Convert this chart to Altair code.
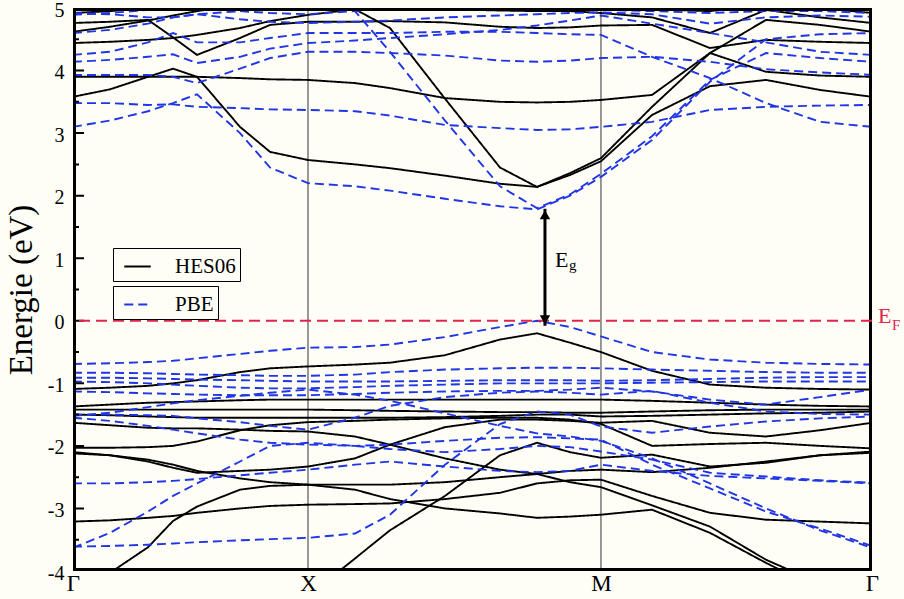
import altair as alt
import pandas as pd

# ---------------- data ----------------
# path coordinate along Γ - X - M - Γ (normalised)
K_PATH = [0.0, 0.0463, 0.0939, 0.1252, 0.1552, 0.2090, 0.2466, 0.2941, 0.3529, 0.3967,
          0.4656, 0.5344, 0.5807, 0.6220, 0.6608, 0.7247, 0.7972, 0.8673, 0.9349, 1.0]
K_DOMAIN = [0.0, 1.0]
E_DOMAIN = [-4, 5]
K_TICKS = [0.0, 0.2941, 0.6608, 1.0]
K_LABELS = ["Γ", "X", "M", "Γ"]
Y_TICKS = [-4, -3, -2, -1, 0, 1, 2, 3, 4, 5]
Y_MINOR = [-3.5, -2.5, -1.5, -0.5, 0.5, 1.5, 2.5, 3.5, 4.5]

HES06 = {
    "c1": [3.58, 3.70, 3.90, 4.03, 3.90, 3.10, 2.70, 2.57, 2.50, 2.44, 2.32, 2.19, 2.14, 2.33, 2.55, 3.29, 3.75, 3.85, 3.69, 3.58],
    "c2": [3.90, 3.90, 3.90, 3.90, 3.90, 3.88, 3.86, 3.85, 3.80, 3.72, 3.56, 3.50, 3.49, 3.50, 3.53, 3.61, 4.28, 3.98, 3.92, 3.90],
    "c3": [4.44, 4.46, 4.49, 4.52, 4.57, 4.68, 4.79, 4.89, 4.98, 4.68, 3.55, 2.45, 2.14, 2.36, 2.60, 3.42, 4.28, 4.81, 4.73, 4.62],
    "c4": [4.76, 4.78, 4.81, 4.53, 4.25, 4.52, 4.73, 4.78, 4.78, 4.79, 4.77, 4.70, 4.68, 4.69, 4.72, 4.73, 4.36, 4.49, 4.46, 4.44],
    "c5": [4.62, 4.70, 4.80, 4.88, 4.95, 5.05, 5.10, 5.10, 5.05, 5.00, 4.98, 4.96, 4.95, 4.95, 4.92, 4.85, 4.60, 4.97, 4.85, 4.76],
    "c6": [4.92, 4.95, 5.00, 5.05, 5.10, 5.10, 5.10, 5.10, 5.10, 5.10, 5.10, 5.10, 5.10, 5.05, 5.00, 4.98, 4.95, 5.05, 5.00, 4.92],
    "v1": [-1.09, -1.07, -1.04, -1.00, -0.95, -0.82, -0.76, -0.73, -0.70, -0.67, -0.55, -0.30, -0.20, -0.35, -0.50, -0.80, -1.02, -1.07, -1.09, -1.10],
    "v2": [-1.37, -1.34, -1.31, -1.30, -1.29, -1.27, -1.26, -1.26, -1.26, -1.26, -1.26, -1.26, -1.26, -1.26, -1.26, -1.28, -1.31, -1.34, -1.36, -1.37],
    "v3": [-1.42, -1.42, -1.42, -1.42, -1.42, -1.42, -1.42, -1.42, -1.43, -1.44, -1.45, -1.46, -1.46, -1.47, -1.47, -1.45, -1.43, -1.42, -1.42, -1.42],
    "v4": [-1.50, -1.51, -1.53, -1.54, -1.55, -1.55, -1.55, -1.55, -1.55, -1.55, -1.54, -1.52, -1.50, -1.50, -1.53, -1.52, -1.50, -1.48, -1.47, -1.45],
    "v5": [-1.63, -1.67, -1.71, -1.72, -1.72, -1.74, -1.76, -1.77, -1.85, -1.98, -2.20, -2.38, -2.45, -2.58, -2.66, -2.95, -3.29, -3.82, -4.20, -4.50],
    "v6": [-2.03, -2.03, -2.02, -2.00, -1.93, -1.75, -1.67, -1.62, -1.60, -1.58, -1.56, -1.55, -1.55, -1.58, -1.65, -2.00, -1.97, -1.95, -2.00, -2.04],
    "v7": [-2.10, -2.15, -2.25, -2.35, -2.43, -2.40, -2.38, -2.33, -2.20, -1.98, -1.70, -1.58, -1.58, -1.60, -1.63, -1.60, -1.79, -1.85, -1.75, -1.63],
    "v8": [-2.12, -2.15, -2.22, -2.30, -2.40, -2.52, -2.58, -2.62, -2.62, -2.62, -2.58, -2.50, -2.45, -2.40, -2.38, -2.42, -2.35, -2.25, -2.15, -2.11],
    "v9": [-3.21, -3.19, -3.15, -3.12, -3.07, -3.00, -2.96, -2.94, -2.93, -2.92, -2.85, -2.75, -2.60, -2.55, -2.54, -2.80, -3.07, -3.18, -3.21, -3.24],
    "v10": [-4.60, -4.03, -3.62, -3.20, -2.97, -2.70, -2.64, -2.62, -2.70, -2.85, -3.00, -3.08, -3.15, -3.13, -3.10, -3.02, -3.39, -3.87, -4.30, -4.60],
    "v11": [-6.00, -6.00, -6.00, -6.00, -6.00, -5.50, -5.00, -4.40, -3.80, -3.35, -2.80, -2.15, -1.95, -2.10, -2.19, -2.14, -2.33, -2.27, -2.15, -2.09],
}

PBE = {
    "c1": [3.10, 3.20, 3.35, 3.48, 3.62, 3.00, 2.45, 2.20, 2.15, 2.08, 1.95, 1.83, 1.78, 2.00, 2.30, 2.89, 3.82, 4.50, 4.58, 4.60],
    "c2": [4.92, 4.90, 4.85, 4.85, 4.90, 4.95, 5.00, 5.02, 4.95, 4.30, 3.20, 2.15, 1.80, 2.02, 2.35, 2.95, 3.85, 4.28, 4.20, 4.14],
    "c3": [3.48, 3.48, 3.45, 3.46, 3.42, 3.40, 3.38, 3.37, 3.35, 3.28, 3.13, 3.08, 3.05, 3.06, 3.10, 3.18, 3.37, 3.42, 3.44, 3.45],
    "c4": [3.93, 3.93, 3.93, 3.90, 3.80, 4.03, 4.20, 4.30, 4.30, 4.28, 4.24, 4.16, 4.14, 4.16, 4.20, 4.22, 4.14, 4.02, 3.97, 3.93],
    "c5": [4.14, 4.17, 4.22, 4.26, 4.12, 4.22, 4.35, 4.44, 4.48, 4.52, 4.58, 4.65, 4.72, 4.80, 4.88, 4.75, 4.60, 4.45, 4.30, 4.25],
    "c6": [4.25, 4.30, 4.45, 4.60, 4.45, 4.45, 4.52, 4.60, 4.60, 4.60, 4.62, 4.62, 4.60, 4.58, 4.57, 4.22, 3.88, 3.48, 3.18, 3.10],
    "c7": [4.60, 4.65, 4.75, 4.85, 4.90, 4.82, 4.78, 4.76, 4.78, 4.80, 4.85, 4.88, 4.90, 4.92, 4.93, 4.90, 4.75, 4.85, 4.88, 4.86],
    "c8": [4.89, 4.92, 4.97, 5.05, 5.00, 4.95, 4.92, 4.90, 4.95, 5.00, 5.05, 5.00, 4.98, 4.97, 4.97, 4.95, 4.92, 4.95, 4.95, 4.92],
    "v1": [-0.69, -0.68, -0.66, -0.64, -0.60, -0.53, -0.48, -0.43, -0.42, -0.38, -0.26, -0.10, 0.00, -0.10, -0.25, -0.50, -0.62, -0.67, -0.69, -0.70],
    "v2": [-0.83, -0.83, -0.84, -0.85, -0.86, -0.87, -0.88, -0.88, -0.86, -0.82, -0.78, -0.76, -0.75, -0.75, -0.76, -0.78, -0.80, -0.82, -0.83, -0.83],
    "v3": [-0.91, -0.91, -0.92, -0.93, -0.94, -0.95, -0.96, -0.97, -0.97, -0.97, -0.96, -0.95, -0.95, -0.95, -0.96, -0.95, -0.93, -0.91, -0.90, -0.90],
    "v4": [-0.97, -0.98, -1.00, -1.02, -1.04, -1.07, -1.08, -1.08, -1.06, -1.04, -1.02, -1.00, -1.00, -1.00, -1.00, -0.99, -0.98, -0.97, -0.97, -0.97],
    "v5": [-1.13, -1.14, -1.16, -1.17, -1.18, -1.19, -1.19, -1.19, -1.17, -1.15, -1.13, -1.12, -1.12, -1.10, -1.07, -1.13, -1.26, -1.34, -1.22, -1.10],
    "v6": [-1.52, -1.47, -1.38, -1.32, -1.27, -1.20, -1.15, -1.10, -1.18, -1.28, -1.48, -1.68, -1.80, -1.85, -1.92, -2.20, -2.60, -3.00, -3.35, -3.63],
    "v7": [-1.55, -1.60, -1.68, -1.74, -1.80, -1.90, -1.95, -1.98, -2.00, -1.98, -1.92, -1.87, -1.86, -1.88, -1.90, -2.30, -2.68, -3.05, -3.32, -3.60],
    "v8": [-1.50, -1.50, -1.51, -1.52, -1.56, -1.62, -1.68, -1.74, -1.55, -1.36, -1.22, -1.15, -1.13, -1.15, -1.18, -1.12, -1.31, -1.45, -1.49, -1.50],
    "v9": [-2.60, -2.60, -2.58, -2.56, -2.53, -2.47, -2.43, -2.38, -2.30, -2.25, -2.33, -2.40, -2.42, -2.40, -2.30, -2.40, -2.48, -2.52, -2.56, -2.60],
    "v10": [-3.63, -3.39, -3.05, -2.80, -2.60, -2.25, -2.00, -1.95, -2.00, -2.05, -2.10, -2.05, -2.00, -2.02, -2.09, -2.22, -2.43, -2.49, -2.55, -2.59],
    "v11": [-3.61, -3.60, -3.58, -3.56, -3.54, -3.51, -3.49, -3.47, -3.40, -3.10, -2.30, -1.65, -1.45, -1.50, -1.69, -1.79, -1.69, -1.61, -1.56, -1.53],
}

FERMI_LEVEL = [0.0]
SYM_LINES_K = [0.2941, 0.6608]
GAP_K = [0.5907]
GAP_BOTTOM = [-0.08]
GAP_TOP = [1.79]
EG_LABEL_E = [1.0]

# ---------------- styling ----------------
SERIF = "Liberation Serif"
BG = "#fefef6"
BLUE = "#1f35e6"
RED = "#e0234e"
PLOT_W, PLOT_H = 799, 563
MAJOR_LEN, MINOR_LEN = 11, 6   # tick lengths in pixels
BAND_W, FRAME_W, TICK_W = 1.9, 3, 2

rows = []
for method, bands in (("HES06", HES06), ("PBE", PBE)):
    for name, vals in bands.items():
        for k, e in zip(K_PATH, vals):
            rows.append({"k": k, "E": e, "band": f"{method}-{name}", "method": method,
                         "style": method, "w": BAND_W})

# plot frame (inset by half its width so it sits inside the plot area) and inward energy ticks
k0, k1 = K_DOMAIN
e0, e1 = E_DOMAIN
kspan, espan = k1 - k0, e1 - e0
dk = kspan * (FRAME_W / 2) / PLOT_W
de = espan * (FRAME_W / 2) / PLOT_H
frame_edges = {
    "left": [(k0 + dk, e0), (k0 + dk, e1)], "right": [(k1 - dk, e0), (k1 - dk, e1)],
    "bottom": [(k0, e0 + de), (k1, e0 + de)], "top": [(k0, e1 - de), (k1, e1 - de)],
}
for name, pts in frame_edges.items():
    for k, e in pts:
        rows.append({"k": k, "E": e, "band": f"frame-{name}", "method": "frame", "style": "frame", "w": FRAME_W})
for vals, length, tag in ((Y_TICKS, MAJOR_LEN, "major"), (Y_MINOR, MINOR_LEN, "minor")):
    for v in vals:
        for k in (k0, k0 + kspan * length / PLOT_W):
            rows.append({"k": k, "E": v, "band": f"tick-{tag}-{v}", "method": "frame", "style": "frame", "w": TICK_W})
df = pd.DataFrame(rows)

# label expression for the high-symmetry points
expr = f"'{K_LABELS[-1]}'"
for i in range(len(K_TICKS) - 2, -1, -1):
    mid = (K_TICKS[i] + K_TICKS[i + 1]) / 2
    expr = f"datum.value < {mid} ? '{K_LABELS[i]}' : ({expr})"

X_ENC = alt.X("k:Q", scale=alt.Scale(domain=K_DOMAIN, nice=False, zero=False),
              axis=alt.Axis(values=K_TICKS, labelExpr=expr, ticks=False, domain=False, grid=False,
                            labelFlush=False, title=None, labelFont=SERIF, labelFontSize=23,
                            labelColor="black", labelPadding=1, labelBaseline="top"))
Y_ENC = alt.Y("E:Q", scale=alt.Scale(domain=E_DOMAIN, nice=False, zero=False),
              axis=alt.Axis(values=Y_TICKS, labelExpr="toString(datum.value)", ticks=False,
                            domain=False, grid=False, labelFlush=False, labelFont=SERIF,
                            labelFontSize=20, labelColor="black", labelPadding=9, labelOffset=2,
                            title="Energie (eV)", titleFont=SERIF, titleFontSize=33,
                            titleFontWeight="normal", titleColor="black", titlePadding=9))

legend_common = dict(title=None, orient="none", strokeColor="black", fillColor=BG, padding=4,
                     cornerRadius=0, labelFont=SERIF, labelFontSize=21, labelColor="black",
                     symbolType="stroke", symbolSize=700, symbolStrokeWidth=2, symbolOffset=6,
                     labelOffset=23)

vlines = alt.Chart(pd.DataFrame({"k": SYM_LINES_K})).mark_rule(color="#333333", strokeWidth=1).encode(x=X_ENC)

bands_layer = alt.Chart(df).mark_line(clip=True, color=BLUE).encode(
    x=X_ENC, y=Y_ENC, detail="band:N",
    strokeWidth=alt.StrokeWidth("w:Q", scale=None, legend=None),
    color=alt.Color("method:N", scale=alt.Scale(domain=["HES06", "PBE", "frame"], range=["#000000", BLUE, "#000000"]),
                    legend=alt.Legend(values=["HES06"], legendX=40, legendY=240, **legend_common)),
    strokeDash=alt.StrokeDash("style:N", scale=alt.Scale(domain=["PBE", "HES06", "frame"], range=[[9, 5], [1, 0], [1, 0]]),
                              legend=alt.Legend(values=["PBE"], legendX=40, legendY=278,
                                                symbolStrokeColor=BLUE, **legend_common)),
)

ef = alt.Chart(pd.DataFrame({"E": FERMI_LEVEL})).mark_rule(color=RED, strokeWidth=2, strokeDash=[11, 6]).encode(y=Y_ENC)

gap_df = pd.DataFrame({"k": GAP_K, "E": GAP_BOTTOM, "E2": GAP_TOP})
arrow = alt.Chart(gap_df).mark_rule(color="black", strokeWidth=3).encode(x=X_ENC, y=Y_ENC, y2="E2:Q")
head_up = alt.Chart(pd.DataFrame({"k": GAP_K, "E": GAP_TOP})).mark_point(
    shape="triangle-up", filled=True, size=110, color="black", opacity=1, yOffset=6).encode(x=X_ENC, y=Y_ENC)
head_down = alt.Chart(pd.DataFrame({"k": GAP_K, "E": GAP_BOTTOM})).mark_point(
    shape="triangle-down", filled=True, size=110, color="black", opacity=1, yOffset=-6).encode(x=X_ENC, y=Y_ENC)

eg_df = pd.DataFrame({"k": GAP_K, "E": EG_LABEL_E})
eg_E = alt.Chart(eg_df).mark_text(text="E", font=SERIF, fontSize=22, align="left", baseline="alphabetic",
                                  dx=10, dy=9, color="black").encode(x=X_ENC, y=Y_ENC)
eg_g = alt.Chart(eg_df).mark_text(text="g", font=SERIF, fontSize=15, align="left", baseline="alphabetic",
                                  dx=24, dy=12, color="black").encode(x=X_ENC, y=Y_ENC)

ef_df = pd.DataFrame({"k": [K_DOMAIN[1]], "E": FERMI_LEVEL})
ef_E = alt.Chart(ef_df).mark_text(text="E", font=SERIF, fontSize=22, align="left", baseline="alphabetic",
                                  dx=6, dy=2, color=RED).encode(x=X_ENC, y=Y_ENC)
ef_F = alt.Chart(ef_df).mark_text(text="F", font=SERIF, fontSize=15, align="left", baseline="alphabetic",
                                  dx=20, dy=9, color=RED).encode(x=X_ENC, y=Y_ENC)

chart = alt.layer(vlines, bands_layer, ef, arrow, head_up, head_down, eg_E, eg_g, ef_E, ef_F).properties(
    width=PLOT_W, height=PLOT_H,
    padding={"left": 73, "top": 8, "right": 32, "bottom": 28},
    autosize=alt.AutoSizeParams(type="none"),
).configure(background=BG).configure_view(stroke=None, fill=BG)

chart.save("out.html", embed_options={"renderer": "svg", "actions": False})
